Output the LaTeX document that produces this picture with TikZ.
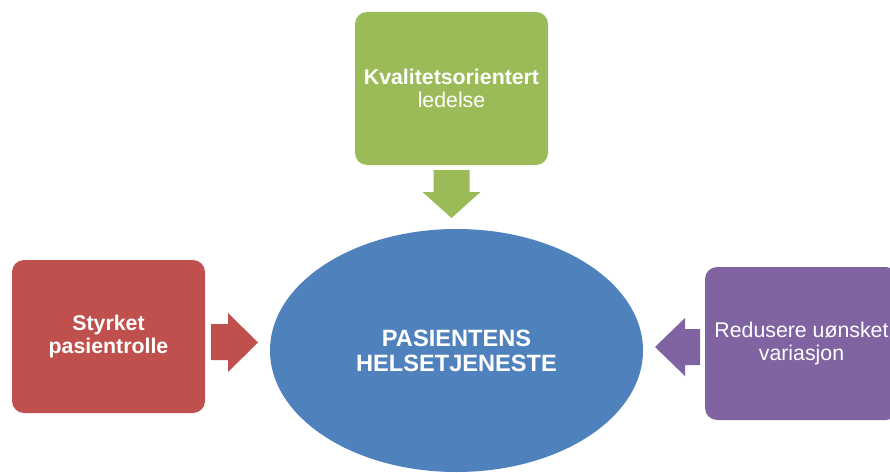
\documentclass[tikz,border=0pt]{standalone}
\usepackage{fontspec}
\setmainfont{Liberation Sans}
\usetikzlibrary{calc,shapes.geometric}

\definecolor{hblue}{HTML}{4F81BD}
\definecolor{hgreen}{HTML}{9BBB59}
\definecolor{hred}{HTML}{C0504D}
\definecolor{hpurple}{HTML}{8064A2}

\begin{document}
\begin{tikzpicture}[
        %We work in pixels, y pointing down
        x=1pt, y=-1pt,
        box/.style={rectangle, rounded corners=12pt, minimum width=193pt,
            minimum height=153pt, inner sep=0pt, align=center, text=white,
            font=\fontsize{21.3}{22.5}\selectfont},
        centre/.style={ellipse, fill=hblue, minimum width=373pt,
            minimum height=243pt, inner sep=0pt, align=center, text=white,
            font=\fontsize{23.6}{25}\selectfont\bfseries},
        block arrow/.style={draw=none}
     ]
    \clip (0,0) rectangle (890,473);

    % The centre of the diagram
    \node[centre] (helse) at (456.5,350.5) {PASIENTENS\\HELSETJENESTE};

    % The three boxes round it
    \node[box, fill=hgreen] (ledelse) at (451.5,88.5)
        {\textbf{Kvalitetsorientert}\\ledelse};
    \node[box, fill=hred] (pasient) at (108.5,336.5)
        {\textbf{Styrket}\\\textbf{pasientrolle}};
    \node[box, fill=hpurple] (variasjon) at (801.5,343.5)
        {Redusere uønsket\\variasjon};

    % Block arrows pointing at the centre
    \fill[hgreen] (433.5,170) -- (469.5,170) -- (469.5,192) -- (480.5,192)
        -- (451.5,218) -- (422.5,192) -- (433.5,192) -- cycle;
    \fill[hred] (211,324) -- (228,324) -- (228,313) -- (258,342.5)
        -- (228,372) -- (228,360) -- (211,360) -- cycle;
    \fill[hpurple] (700,329) -- (685,329) -- (685,318) -- (655,347)
        -- (685,376) -- (685,365) -- (700,365) -- cycle;
\end{tikzpicture}
\end{document}
